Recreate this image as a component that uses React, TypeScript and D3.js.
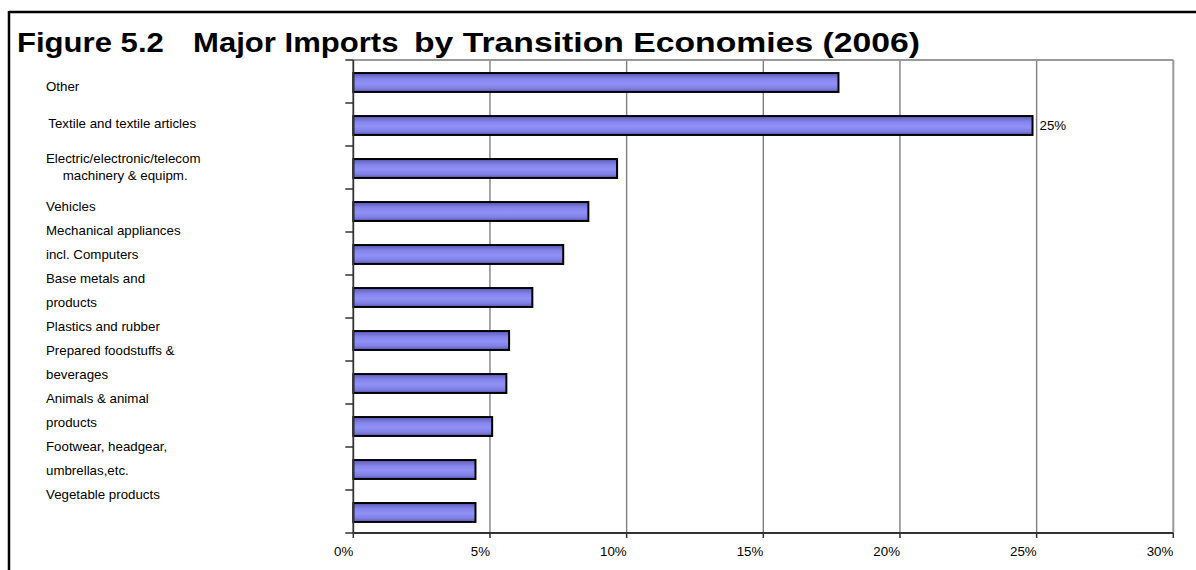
import React from "react";
import * as d3 from "d3";

const categories = [
  "Other",
  "Textile and textile articles",
  "Electric/electronic/telecom machinery & equipm.",
  "Vehicles",
  "Mechanical appliances incl. Computers",
  "Base metals and products",
  "Plastics and rubber",
  "Prepared foodstuffs & beverages",
  "Animals & animal products",
  "Footwear, headgear, umbrellas,etc.",
  "Vegetable products",
];
const values = [17.75, 24.85, 9.65, 8.6, 7.68, 6.55, 5.7, 5.6, 5.08, 4.47, 4.47];
const tickValues = [0, 5, 10, 15, 20, 25, 30];
const labelledIndex = 1;
const labelledText = "25%";

const titleParts = ["Figure 5.2", "Major Imports", "by Transition Economies (2006)"];

// label lines (text only) in reading order
const headLabels = [["Other"], ["Textile and textile articles"], ["Electric/electronic/telecom", "machinery & equipm."]];
const flowLabels = [
  "Vehicles",
  "Mechanical appliances",
  "incl. Computers",
  "Base metals and",
  "products",
  "Plastics and rubber",
  "Prepared foodstuffs &",
  "beverages",
  "Animals & animal",
  "products",
  "Footwear, headgear,",
  "umbrellas,etc.",
  "Vegetable products",
];

const W = 1196;
const H = 570;
const plot = { left: 353.3, right: 1173.3, top: 60, bottom: 533 };
const FONT = "'Liberation Sans', Arial, Helvetica, sans-serif";
const SX = 1.11;

function T({ x, y, anchor, size, bold, children }: any) {
  return (
    <text
      transform={`translate(${x},${y}) scale(${SX},1)`}
      textAnchor={anchor || "start"}
      fontSize={size}
      fontWeight={bold ? "bold" : "normal"}
      dy={bold ? 0 : "0.35em"}
      fill="#000"
    >
      {children}
    </text>
  );
}

export default function App() {
  const x = d3.scaleLinear().domain([0, 30]).range([plot.left, plot.right]);
  const y = d3.scaleBand<string>().domain(categories).range([plot.top, plot.bottom]).padding(0);
  const bw = y.bandwidth();
  const barH = bw * 0.44;
  const boundaries = d3.range(categories.length + 1).map((i) => plot.top + i * bw);

  const headX = [[46], [48.3], [46, 62.7]];
  const headDy = [[5], [-1], [-8.5, 8.5]];
  const flowStart = 206.7;
  const flowStep = 24;
  const titleX = [17, 193, 414];

  return (
    <svg width={W} height={H} style={{ display: "block", position: "absolute", left: 0, top: 0 }} fontFamily={FONT}>
      <defs>
        <linearGradient id="barGrad" x1="0" y1="0" x2="0" y2="1">
          <stop offset="0%" stopColor="#5a5ab8" />
          <stop offset="30%" stopColor="#8484ea" />
          <stop offset="55%" stopColor="#9090f6" />
          <stop offset="80%" stopColor="#8080e4" />
          <stop offset="100%" stopColor="#5a5ab8" />
        </linearGradient>
      </defs>
      <rect x={0} y={0} width={W} height={H} fill="#fff" />
      {/* outer frame */}
      <line x1={9} y1={12} x2={W} y2={12} stroke="#000" strokeWidth={2.5} />
      <line x1={9} y1={11} x2={9} y2={H} stroke="#000" strokeWidth={2.5} />

      {/* title */}
      <T x={titleX[0]} y={52} size={28} bold>
        {titleParts[0]}
      </T>
      <T x={titleX[1]} y={52} size={28} bold>
        {titleParts[1]}
      </T>
      <text
        x={titleX[2]}
        y={52}
        fontSize={28}
        fontWeight="bold"
        fill="#000"
        textLength={506}
        lengthAdjust="spacingAndGlyphs"
      >
        {titleParts[2]}
      </text>

      {/* gridlines */}
      {tickValues.slice(1, -1).map((t) => (
        <line key={t} x1={x(t)} x2={x(t)} y1={plot.top} y2={plot.bottom} stroke="#808080" strokeWidth={1.4} />
      ))}
      {/* plot border top/right */}
      <line x1={plot.left} x2={plot.right} y1={plot.top} y2={plot.top} stroke="#999" strokeWidth={2} />
      <line x1={plot.right} x2={plot.right} y1={plot.top} y2={plot.bottom} stroke="#999" strokeWidth={2} />

      {/* bars */}
      {categories.map((c, i) => {
        const yc = (y(c) as number) + bw / 2 + 1;
        return (
          <rect
            key={c}
            x={x(0)}
            y={yc - barH / 2}
            width={x(values[i]) - x(0)}
            height={barH}
            fill="url(#barGrad)"
            stroke="#000"
            strokeWidth={2}
          />
        );
      })}

      {/* value label */}
      <T x={x(values[labelledIndex]) + 7} y={(y(categories[labelledIndex]) as number) + bw / 2 + 1} size={12}>
        {labelledText}
      </T>

      {/* axes */}
      <line x1={plot.left} x2={plot.left} y1={plot.top} y2={plot.bottom} stroke="#333" strokeWidth={1.8} />
      <line x1={plot.left} x2={plot.right} y1={plot.bottom} y2={plot.bottom} stroke="#333" strokeWidth={1.8} />
      {boundaries.map((b, i) => (
        <line key={i} x1={plot.left - 8} x2={plot.left} y1={b} y2={b} stroke="#333" strokeWidth={1.5} />
      ))}
      {tickValues.map((t) => (
        <g key={t}>
          <line x1={x(t)} x2={x(t)} y1={plot.bottom} y2={plot.bottom + 5} stroke="#333" strokeWidth={1.5} />
          <T x={x(t)} y={plot.bottom + 19} anchor="end" size={12}>
            {t}%
          </T>
        </g>
      ))}

      {/* category labels */}
      {headLabels.map((lines, i) =>
        lines.map((ln, j) => (
          <T key={`h${i}-${j}`} x={headX[i][j]} y={(y(categories[i]) as number) + bw / 2 + headDy[i][j]} size={12}>
            {ln}
          </T>
        ))
      )}
      {flowLabels.map((ln, k) => (
        <T key={`f${k}`} x={46} y={flowStart + k * flowStep} size={12}>
          {ln}
        </T>
      ))}
    </svg>
  );
}
